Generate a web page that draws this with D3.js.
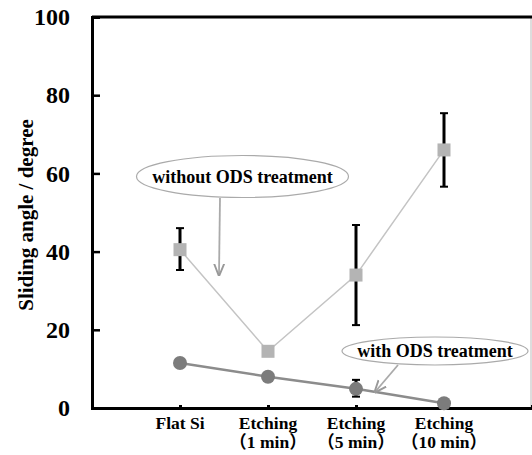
<!DOCTYPE html>
<html>
<head>
<meta charset="utf-8">
<script src="https://cdn.jsdelivr.net/npm/d3@7"></script>
<style>
  body { margin: 0; background: #fff; }
</style>
</head>
<body>
<svg id="chart" width="532" height="455"></svg>
<script>
// categories (two-line labels)
let categories = [["Flat Si"], ["Etching", "（1 min）"], ["Etching", "（5 min）"], ["Etching", "（10 min）"]];
let yTicks = [0, 20, 40, 60, 80, 100];

// without ODS treatment
let withoutMean = [40.5, 14.5, 34, 66];
let withoutLow = [35.3, 14.5, 21.2, 56.6];
let withoutHigh = [46, 14.5, 46.8, 75.4];

// with ODS treatment
let withMean = [11.5, 8, 4.9, 1.2];
let withLow = [11.5, 8, 2.9, 1.2];
let withHigh = [11.5, 8, 7.2, 1.2];

let serif = '"Liberation Serif", "Noto Sans CJK JP"';

let svg = d3.select("#chart");

let plotLeft = 92, plotRight = 532, plotTop = 17, plotBottom = 408;

let xScale = d3.scaleLinear().domain([0, 5]).range([plotLeft, plotRight]);
let yScale = d3.scaleLinear().domain([0, 100]).range([plotBottom, plotTop]);

// frame
svg.append("line").attr("x1", plotRight - 1).attr("x2", plotRight - 1).attr("y1", plotTop).attr("y2", plotBottom)
    .attr("stroke", "#bbb").attr("stroke-width", 1);
svg.append("line").attr("x1", plotLeft).attr("x2", plotRight).attr("y1", plotTop).attr("y2", plotTop)
    .attr("stroke", "#000").attr("stroke-width", 3);

// y axis
let yAxis = d3.axisLeft(yScale).tickValues(yTicks).tickSize(-8).tickPadding(22);
let yAxisGroup = svg.append("g")
    .attr("transform", `translate(${plotLeft}, 0)`)
    .call(yAxis);
yAxisGroup.select(".domain").attr("stroke-width", 3);
yAxisGroup.selectAll(".tick line").attr("stroke-width", 2.5);
yAxisGroup.selectAll(".tick text")
    .style("font-family", serif)
    .style("font-weight", "bold")
    .style("font-size", "24px")
    .attr("fill", "#000");

// x axis
let xAxis = d3.axisBottom(xScale).tickValues([1, 2, 3, 4]).tickSize(-3).tickFormat("");
let xAxisGroup = svg.append("g")
    .attr("transform", `translate(0, ${plotBottom})`)
    .call(xAxis);
xAxisGroup.select(".domain").attr("stroke-width", 3);
xAxisGroup.selectAll(".tick line").attr("stroke-width", 3);

// x labels
let xLabels = svg.append("g").selectAll("text")
    .data(categories)
    .enter()
    .append("text")
    .attr("x", (d, i) => xScale(i + 1))
    .attr("y", 429)
    .attr("text-anchor", "middle")
    .style("font-family", serif)
    .style("font-weight", "bold")
    .style("font-size", "17.5px");
xLabels.selectAll("tspan")
    .data(d => d)
    .enter()
    .append("tspan")
    .attr("x", function () { return d3.select(this.parentNode).attr("x"); })
    .attr("dy", (d, i) => i == 0 ? 0 : 19)
    .text(d => d);

// y label
svg.append("text")
    .attr("transform", "translate(33, 215) rotate(-90)")
    .attr("text-anchor", "middle")
    .style("font-family", serif)
    .style("font-weight", "bold")
    .style("font-size", "21px")
    .text("Sliding angle / degree");

let line = d3.line()
    .x((d, i) => xScale(i + 1))
    .y(d => yScale(d));

// series lines
svg.append("path").datum(withoutMean).attr("d", line)
    .attr("fill", "none").attr("stroke", "#c4c4c4").attr("stroke-width", 1.5);
svg.append("path").datum(withMean).attr("d", line)
    .attr("fill", "none").attr("stroke", "#8c8c8c").attr("stroke-width", 2.5);

// error bars
function errorBars(low, high) {
    let g = svg.append("g").attr("stroke", "#000").attr("stroke-width", 3);
    low.forEach((lo, i) => {
        if (high[i] - lo < 0.5) return;
        let x = xScale(i + 1);
        g.append("line").attr("x1", x).attr("x2", x).attr("y1", yScale(lo)).attr("y2", yScale(high[i]));
        g.append("line").attr("x1", x - 4).attr("x2", x + 4).attr("y1", yScale(lo)).attr("y2", yScale(lo)).attr("stroke-width", 2);
        g.append("line").attr("x1", x - 4).attr("x2", x + 4).attr("y1", yScale(high[i])).attr("y2", yScale(high[i])).attr("stroke-width", 2);
    });
}
errorBars(withoutLow, withoutHigh);
errorBars(withLow, withHigh);

// markers
svg.append("g").selectAll("rect")
    .data(withoutMean)
    .enter()
    .append("rect")
    .attr("x", (d, i) => xScale(i + 1) - 6.5)
    .attr("y", d => yScale(d) - 6.5)
    .attr("width", 13)
    .attr("height", 13)
    .attr("fill", "#b4b4b4");

svg.append("g").selectAll("circle")
    .data(withMean)
    .enter()
    .append("circle")
    .attr("cx", (d, i) => xScale(i + 1))
    .attr("cy", d => yScale(d))
    .attr("r", 7)
    .attr("fill", "#7c7c7c");

// callouts
svg.append("defs").append("marker")
    .attr("id", "arrow")
    .attr("viewBox", "0 0 10 10")
    .attr("refX", 9).attr("refY", 5)
    .attr("markerWidth", 7).attr("markerHeight", 7)
    .attr("orient", "auto")
    .append("path")
    .attr("d", "M0,1 L10,5 L0,9")
    .attr("fill", "none")
    .attr("stroke", "#999")
    .attr("stroke-width", 1.5);

function callout(cx, cy, rx, ry, label, x1, y1, x2, y2) {
    svg.append("line").attr("x1", x1).attr("y1", y1).attr("x2", x2).attr("y2", y2)
        .attr("stroke", "#aaa").attr("stroke-width", 1.8).attr("marker-end", "url(#arrow)");
    svg.append("ellipse").attr("cx", cx).attr("cy", cy).attr("rx", rx).attr("ry", ry)
        .attr("fill", "#fff").attr("stroke", "#aaa").attr("stroke-width", 1.2);
    svg.append("text").attr("x", cx).attr("y", cy + 6)
        .attr("text-anchor", "middle")
        .style("font-family", serif)
        .style("font-weight", "bold")
        .style("font-size", "18px")
        .text(label);
}
callout(242.5, 176.5, 106, 21, "without ODS treatment", 220, 198, 219, 275);
callout(435, 351, 93, 14, "with ODS treatment", 398, 365, 375, 392);
</script>
</body>
</html>
